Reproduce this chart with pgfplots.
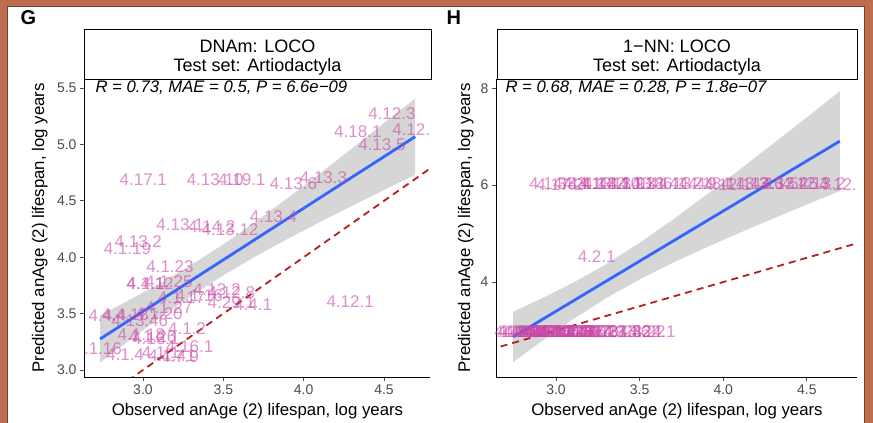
\documentclass[border=0pt]{standalone}
\usepackage{fontspec}
\setmainfont{Liberation Sans}
\usepackage{pgfplots}
\pgfplotsset{compat=1.18}
\definecolor{lab}{RGB}{200,70,165}
\definecolor{smoothblue}{RGB}{51,102,255}
\definecolor{refl}{RGB}{178,34,34}
\definecolor{framec}{RGB}{190,110,78}
\definecolor{band}{RGB}{153,153,153}
\pgfplotsset{
  panel/.style={scale only axis, anchor=south west,
    axis x line*=bottom, axis y line*=left,
    axis line style={black, line width=0.8pt, -},
    tick align=outside, major tick length=4pt,
    tick style={black!70, line width=0.7pt},
    tick label style={font=\fontsize{14}{16}\selectfont, text=black!70},
    xtick={3,3.5,4,4.5}, xticklabels={3.0,3.5,4.0,4.5},
    clip=true, height=298pt},
  lbl/.style={draw=none, nodes near coords, point meta=explicit symbolic,
    nodes near coords align={center},
    every node near coord/.append style={font=\fontsize{17}{17}\selectfont,
      text=lab, text opacity=0.6, inner sep=0pt, anchor=center}},
}
\begin{document}
\begin{tikzpicture}
\useasboundingbox (0,0) rectangle (873pt,423pt);
\fill[framec] (0,0) rectangle (873pt,423pt);
\fill[white] (7pt,0) rectangle (864pt,417pt);
\draw[framec!60!black, line width=0.8pt] (7pt,0) -- (7pt,417pt) -- (864pt,417pt) -- (864pt,0);

% ---------------- Panel G ----------------
\begin{axis}[panel, at={(84pt,46pt)}, width=346pt,
  xmin=2.633, xmax=4.786, ymin=2.938, ymax=5.58,
  ytick={3,3.5,4,4.5,5,5.5}, yticklabels={3.0,3.5,4.0,4.5,5.0,5.5}]
\addplot[lbl] table[meta=label, row sep=\\]{
x y label\\
4.549 5.275 4.12.3\\
4.337 5.113 4.18.1\\
4.669 5.134 4.12.\\
4.487 4.995 4.13.5\\
3.002 4.690 4.17.1\\
3.449 4.690 4.13.10\\
3.615 4.690 4.19.1\\
3.936 4.655 4.13.6\\
4.123 4.708 4.13.3\\
3.812 4.359 4.13.4\\
3.231 4.285 4.13.1\\
3.428 4.270 4.14.2\\
3.542 4.241 4.13.12\\
2.971 4.138 4.13.2\\
2.903 4.079 4.1.19\\
3.168 3.916 4.1.23\\
3.162 3.783 4.1.25\\
3.017 3.768 4.4.1\\
3.044 3.770 4.1.12\\
3.460 3.710 4.13.2\\
3.550 3.690 4.12.8\\
3.240 3.640 4.1.17\\
3.350 3.660 4.1.16\\
3.550 3.600 4.29.1\\
3.685 3.576 4.4.1\\
4.289 3.606 4.12.1\\
2.780 3.480 4.4.4\\
2.890 3.490 4.4.13\\
2.980 3.440 4.13.46\\
3.100 3.500 4.1.20\\
3.160 3.550 4.1.27\\
2.990 3.310 4.1.18\\
3.060 3.300 4.1.26\\
3.274 3.363 4.1.2\\
3.080 3.280 4.16.1\\
2.751 3.190 .1.16\\
2.888 3.133 4.1.4\\
3.110 3.150 4.1.1\\
3.230 3.118 4.7.9\\
3.290 3.210 4.16.1\\
3.180 3.130 4.1.41\\
};
\addplot[fill=band, fill opacity=0.4, draw=none] coordinates {
(2.733,3.484) (2.9,3.609) (3.1,3.764) (3.3,3.931) (3.5,4.114) (3.7,4.313)
(3.9,4.524) (4.1,4.742) (4.3,4.964) (4.5,5.189) (4.694,5.408)
(4.694,4.730) (4.5,4.596) (4.3,4.454) (4.1,4.311) (3.9,4.162) (3.7,4.007)
(3.5,3.840) (3.3,3.657) (3.1,3.458) (2.9,3.247) (2.733,3.066)} -- cycle;
\addplot[smoothblue, line width=2.8pt] coordinates {(2.733,3.275) (4.694,5.069)};
\addplot[refl, line width=1.8pt, dash pattern=on 7pt off 5pt] coordinates {(2.6,2.6) (4.8,4.8)};
\end{axis}

\draw[line width=0.8pt, fill=white] (84pt,344pt) rectangle (431pt,394pt);
\node[anchor=base, font=\fontsize{18}{18}\selectfont] at (257.5pt,370.3pt) {DNAm: LOCO};
\node[anchor=base, font=\fontsize{18}{18}\selectfont] at (257.5pt,351.3pt) {Test set: Artiodactyla};
\node[anchor=base west, font=\fontsize{16.7}{16.7}\selectfont\itshape] at (92pt,330pt) {R = 0.73, MAE = 0.5, P = 6.6e−09};
\node[anchor=base west, font=\fontsize{20}{20}\selectfont\bfseries] at (17pt,398pt) {G};
\node[anchor=base, font=\fontsize{16.8}{16.8}\selectfont] at (257.5pt,7pt) {Observed anAge (2) lifespan, log years};
\node[anchor=base, rotate=90, font=\fontsize{16.8}{16.8}\selectfont] at (44pt,195pt) {Predicted anAge (2) lifespan, log years};

% ---------------- Panel H ----------------
\begin{axis}[panel, at={(496pt,46pt)}, width=361pt,
  xmin=2.641, xmax=4.80, ymin=2.04, ymax=8.19,
  ytick={4,6,8}, yticklabels={4,6,8}]
\addplot[lbl] table[meta=label, row sep=\\]{
x y label\\
2.952 6.02 4.1.3\\
3.024 6.02 4.17.2\\
3.095 6.02 4.3.4\\
3.155 6.02 4.3.1\\
3.215 6.02 4.1.14\\
3.275 6.02 4.13.2\\
3.334 6.02 4.13.10\\
3.394 6.02 4.13.9\\
3.454 6.02 4.1.13\\
3.514 6.02 4.13.1\\
3.591 6.02 4.18.4\\
3.669 6.02 4.6.1\\
3.753 6.02 4.13.4\\
3.848 6.02 4.2.9\\
3.932 6.02 4.18.1\\
4.028 6.02 4.12.1\\
4.129 6.02 4.13.3\\
4.219 6.02 4.13.6\\
4.309 6.02 4.13.5\\
4.398 6.02 4.13.25\\
4.494 6.02 4.12.3\\
4.590 6.02 4.13.2\\
4.685 6.02 4.12.\\
3.243 4.52 4.2.1\\
2.755 2.97 .1.14\\
2.773 2.97 4.1.16\\
2.790 2.97 4.1.15\\
2.805 2.97 4.1.4\\
2.821 2.97 4.1.21\\
2.840 2.97 4.4.4\\
2.855 2.97 4.4.3\\
2.869 2.97 4.1.5\\
2.885 2.97 4.1.8\\
2.900 2.97 4.1.7\\
2.916 2.97 4.1.19\\
2.930 2.97 4.1.9\\
2.945 2.97 4.1.10\\
2.964 2.97 4.4.13\\
2.980 2.97 4.1.11\\
2.995 2.97 4.4.2\\
3.012 2.97 4.1.18\\
3.030 2.97 4.1.22\\
3.045 2.97 4.1.24\\
3.060 2.97 4.13.46\\
3.080 2.97 4.1.28\\
3.095 2.97 4.4.5\\
3.108 2.97 4.1.20\\
3.130 2.97 4.1.29\\
3.156 2.97 4.1.26\\
3.180 2.97 4.13.7\\
3.203 2.97 4.16.1\\
3.230 2.97 4.13.8\\
3.251 2.97 4.1.2\\
3.299 2.97 4.7.9\\
3.347 2.97 4.13.23\\
3.395 2.97 4.13.36\\
3.455 2.97 4.13.22\\
3.514 2.97 4.4.22\\
3.574 2.97 4.24.1\\
};
\addplot[fill=band, fill opacity=0.4, draw=none] coordinates {
(2.743,3.386) (2.9,3.637) (3.1,3.980) (3.3,4.368) (3.5,4.808) (3.7,5.291)
(3.9,5.801) (4.1,6.326) (4.3,6.860) (4.5,7.398) (4.697,7.937)
(4.697,5.877) (4.5,5.600) (4.3,5.312) (4.1,5.019) (3.9,4.717) (3.7,4.399)
(3.5,4.056) (3.3,3.668) (3.1,3.228) (2.9,2.745) (2.743,2.346)} -- cycle;
\addplot[smoothblue, line width=2.8pt] coordinates {(2.743,2.866) (4.697,6.907)};
\addplot[refl, line width=1.8pt, dash pattern=on 7pt off 5pt] coordinates {(2.6,2.6) (4.8,4.8)};
\end{axis}

\draw[line width=0.8pt, fill=white] (497pt,344pt) rectangle (857pt,394pt);
\node[anchor=base, font=\fontsize{18}{18}\selectfont] at (677pt,370.3pt) {1−NN: LOCO};
\node[anchor=base, font=\fontsize{18}{18}\selectfont] at (677pt,351.3pt) {Test set: Artiodactyla};
\node[anchor=base west, font=\fontsize{16.7}{16.7}\selectfont\itshape] at (502pt,330pt) {R = 0.68, MAE = 0.28, P = 1.8e−07};
\node[anchor=base west, font=\fontsize{20}{20}\selectfont\bfseries] at (443pt,398pt) {H};
\node[anchor=base, font=\fontsize{16.8}{16.8}\selectfont] at (677pt,7pt) {Observed anAge (2) lifespan, log years};
\node[anchor=base, rotate=90, font=\fontsize{16.8}{16.8}\selectfont] at (470pt,195pt) {Predicted anAge (2) lifespan, log years};
\end{tikzpicture}
\end{document}
